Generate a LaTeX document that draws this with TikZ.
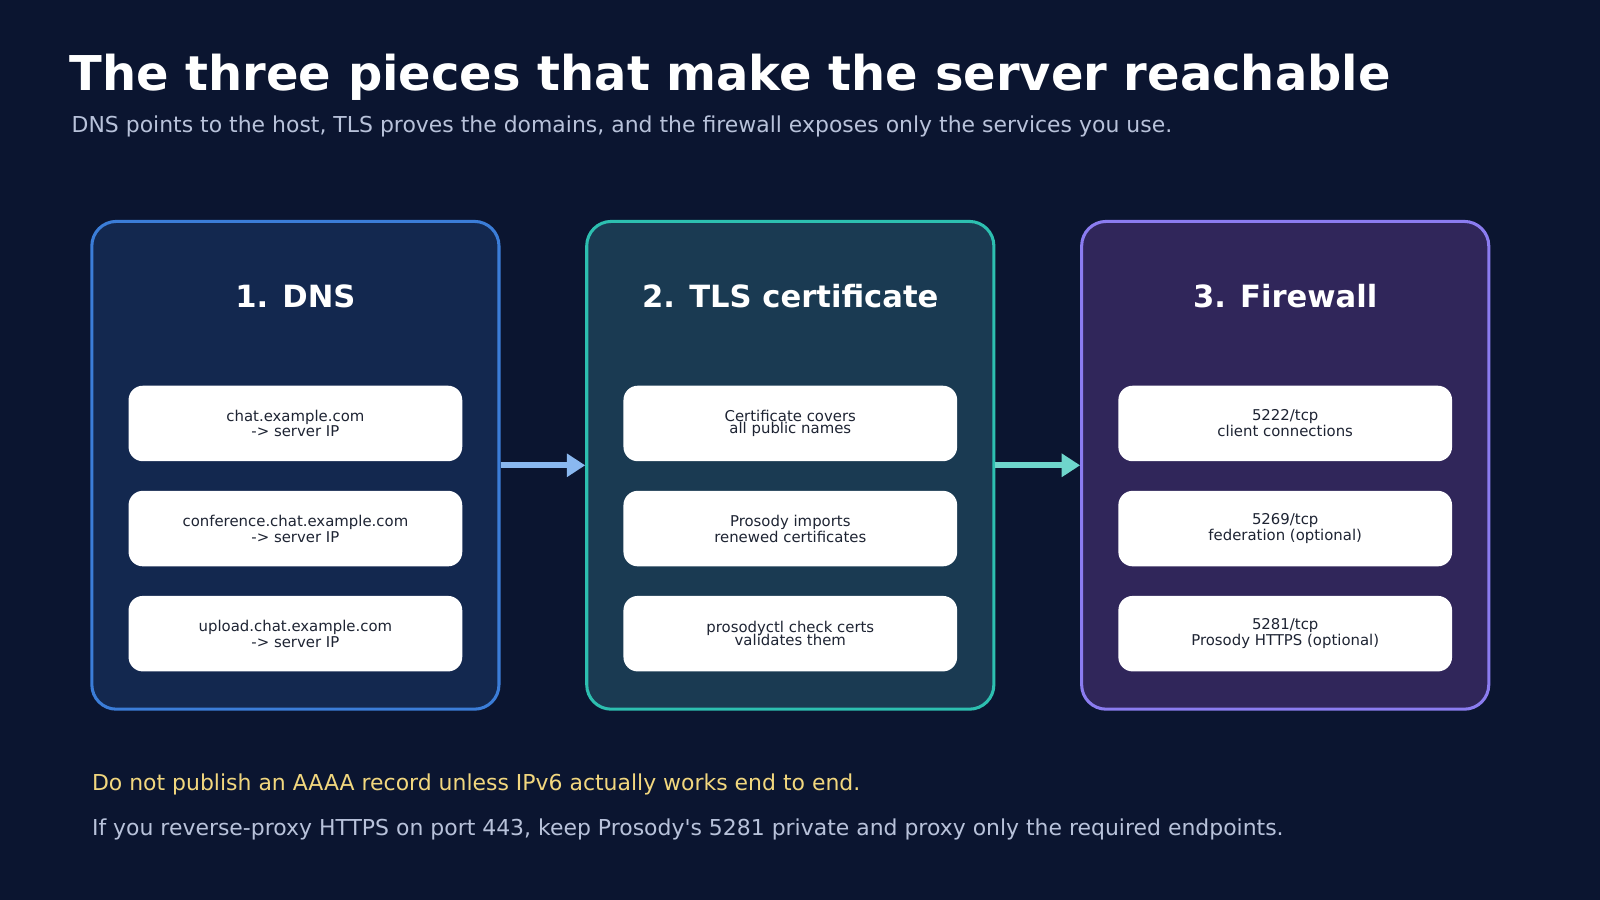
\documentclass[tikz,border=0pt]{standalone}
\usepackage{fontspec}
\setmainfont{DejaVu Sans}
\usetikzlibrary{positioning,arrows.meta}
\definecolor{bg}{HTML}{0B1530}
\definecolor{dnsfill}{HTML}{13284F}
\definecolor{dnsline}{HTML}{3B7DD8}
\definecolor{tlsfill}{HTML}{1A3A52}
\definecolor{tlsline}{HTML}{2DBFB0}
\definecolor{fwfill}{HTML}{30265A}
\definecolor{fwline}{HTML}{8B7CF0}
\definecolor{arrA}{HTML}{8AB8F0}
\definecolor{arrB}{HTML}{6FD6CC}
\definecolor{subtxt}{HTML}{B8C2DA}
\definecolor{warn}{HTML}{F2D77E}
\definecolor{itemtxt}{HTML}{1E2433}
\begin{document}
\begin{tikzpicture}[x=1pt,y=-1pt,
  panel/.style={draw, line width=3pt, rounded corners=24pt, minimum width=399pt, minimum height=478pt, inner sep=0pt},
  ptitle/.style={text=white, font=\fontsize{30}{34}\selectfont\bfseries},
  item/.style={fill=white, rounded corners=14pt, minimum width=327pt, minimum height=74pt, align=center, text=itemtxt, font=\fontsize{14.6}{15.5}\selectfont},
  flow/.style={line width=6pt, -{Triangle[length=18pt,width=22pt]}}]
\fill[bg] (0,0) rectangle (1568,882);
\useasboundingbox (0,0) rectangle (1568,882);
\node[anchor=base west, text=white, font=\fontsize{47}{50}\selectfont\bfseries, inner sep=0pt] (title) at (68,89) {The three pieces that make the server reachable};
\node[anchor=base west, text=subtxt, font=\fontsize{21.5}{24}\selectfont, inner sep=0pt] (sub) at (70,130) {DNS points to the host, TLS proves the domains, and the firewall exposes only the services you use.};
% panels
\node[panel, draw=dnsline, fill=dnsfill] (dns) at (289.5,456) {};
\node[panel, draw=tlsline, fill=tlsfill] (tls) at (774.5,456) {};
\node[panel, draw=fwline, fill=fwfill] (fw) at (1259.5,456) {};
\node[ptitle] at (289.5,290) {1. DNS};
\node[ptitle] at (774.5,290) {2. TLS certificate};
\node[ptitle] at (1259.5,290) {3. Firewall};
% items
\node[item] (d1) at (289.5,415) {chat.example.com\\-> server IP};
\node[item] (d2) at (289.5,518) {conference.chat.example.com\\-> server IP};
\node[item] (d3) at (289.5,621) {upload.chat.example.com\\-> server IP};
\node[item] (t1) at (774.5,415) {Certificate covers\\[-3pt]all public names};
\node[item] (t2) at (774.5,518) {Prosody imports\\renewed certificates};
\node[item] (t3) at (774.5,621) {prosodyctl check certs\\[-3pt]validates them};
\node[item] (f1) at (1259.5,415) {5222/tcp\\client connections};
\node[item] (f2) at (1259.5,518) {5269/tcp\\federation (optional)};
\node[item] (f3) at (1259.5,621) {5281/tcp\\Prosody HTTPS (optional)};
% arrows
\draw[flow, arrA] (dns.east) -- (tls.west);
\draw[flow, arrB] (tls.east) -- (fw.west);
% notes
\node[anchor=base west, text=warn, font=\fontsize{21.5}{24}\selectfont, inner sep=0pt] (note1) at (90,775) {Do not publish an AAAA record unless IPv6 actually works end to end.};
\node[anchor=base west, text=subtxt, font=\fontsize{21.5}{24}\selectfont, inner sep=0pt] (note2) at (90,819) {If you reverse-proxy HTTPS on port 443, keep Prosody\textquotesingle s 5281 private and proxy only the required endpoints.};
\end{tikzpicture}
\end{document}
